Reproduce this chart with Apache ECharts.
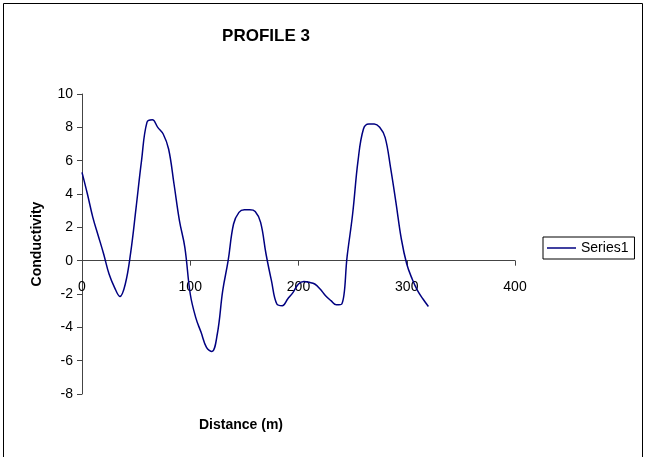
<!DOCTYPE html>
<html>
<head>
<meta charset="utf-8">
<script src="https://cdn.jsdelivr.net/npm/echarts@6/dist/echarts.min.js"></script>
<style>
  html, body { margin: 0; padding: 0; background: #fff; }
  #chart { width: 645px; height: 457px; }
</style>
</head>
<body>
<div id="chart"></div>
<script>
// Conductivity readings along profile 3, every 5 m
const distance = [0, 5, 10, 15, 20, 25, 30, 35, 40, 45, 50, 55, 60, 65, 70, 75, 80, 85, 90, 95,
  100, 105, 110, 115, 120, 125, 130, 135, 140, 145, 150, 155, 160, 165, 170, 175, 180, 185, 190, 195,
  200, 205, 210, 215, 220, 225, 230, 235, 240, 245, 250, 255, 260, 265, 270, 275, 280, 285, 290, 295,
  300, 305, 310, 315, 320];
const conductivity = [5.3, 4.0, 2.6, 1.5, 0.4, -0.8, -1.6, -2.15, -1.4, 0.5, 3.2, 6.0, 8.3, 8.45, 8.0, 7.6, 6.7, 4.6, 2.4, 0.8,
  -2.0, -3.4, -4.3, -5.2, -5.45, -4.4, -1.8, 0.0, 2.2, 2.9, 3.05, 3.05, 2.95, 2.3, 0.4, -1.2, -2.6, -2.7, -2.3, -1.9,
  -1.4, -1.25, -1.3, -1.4, -1.7, -2.1, -2.4, -2.65, -2.6, 0.3, 2.8, 6.0, 7.9, 8.2, 8.2, 8.0, 7.4, 5.6, 3.5, 1.3,
  -0.2, -1.1, -1.8, -2.3, -2.75];
const xTicks = { min: 0, max: 400, step: 100 };
const yTicks = { min: -8, max: 10, step: 2 };
const seriesName = 'Series1';
const chartTitle = 'PROFILE 3';
const xTitle = 'Distance (m)';
const yTitle = 'Conductivity';

const points = distance.map((d, i) => [d, conductivity[i]]);
const font = '"Liberation Sans", Arial, sans-serif';
const axisColor = '#444';

// plot area geometry
const gridTop = 94, gridBottom = 63, gridHeight = 457 - gridTop - gridBottom;
// the distance axis crosses the value axis at zero
const zeroOffset = -gridHeight * (0 - yTicks.min) / (yTicks.max - yTicks.min);

const chart = echarts.init(document.getElementById('chart'));
chart.setOption({
  animation: false,
  backgroundColor: '#fff',
  textStyle: { fontFamily: font },
  grid: { left: 82, right: 130, top: gridTop, bottom: gridBottom, containLabel: false },
  graphic: [
    { type: 'rect', shape: { x: 3.5, y: 3.5, width: 639, height: 470 },
      style: { fill: 'none', stroke: '#000', lineWidth: 1 }, silent: true },
    { type: 'text', x: 266, y: 36,
      style: { text: chartTitle, font: 'bold 17px ' + font, fill: '#000',
               textAlign: 'center', textVerticalAlign: 'middle' } },
    { type: 'text', x: 241, y: 425,
      style: { text: xTitle, font: 'bold 14px ' + font, fill: '#000',
               textAlign: 'center', textVerticalAlign: 'middle' } }
  ],
  legend: {
    left: 543, top: 237,
    orient: 'vertical',
    padding: [4, 6, 4, 4],
    borderColor: '#000', borderWidth: 1,
    icon: 'rect', itemWidth: 29, itemHeight: 1.5, itemGap: 0,
    textStyle: { fontSize: 14, color: '#000', fontFamily: font },
    data: [seriesName]
  },
  xAxis: {
    type: 'value',
    position: 'bottom',
    offset: zeroOffset,
    min: xTicks.min, max: xTicks.max, interval: xTicks.step,
    axisLine: { onZero: false, lineStyle: { color: axisColor, width: 1 } },
    axisTick: { show: true, inside: false, length: 5, lineStyle: { color: axisColor } },
    axisLabel: { margin: 19, fontSize: 14, color: '#000', fontFamily: font },
    splitLine: { show: false }
  },
  yAxis: {
    type: 'value',
    min: yTicks.min, max: yTicks.max, interval: yTicks.step,
    name: yTitle, nameLocation: 'middle', nameGap: 38, nameRotate: 90,
    nameTextStyle: { fontSize: 14, fontWeight: 'bold', color: '#000', fontFamily: font },
    axisLine: { show: true, onZero: false, lineStyle: { color: axisColor, width: 1 } },
    axisTick: { show: true, inside: false, length: 5, lineStyle: { color: axisColor } },
    axisLabel: { margin: 9, fontSize: 14, color: '#000', fontFamily: font },
    splitLine: { show: false }
  },
  series: [{
    name: seriesName,
    type: 'line',
    data: points,
    smooth: 0.4,
    showSymbol: false,
    symbol: 'none',
    lineStyle: { color: '#000080', width: 1.5 },
    itemStyle: { color: '#000080' }
  }]
});
</script>
</body>
</html>
